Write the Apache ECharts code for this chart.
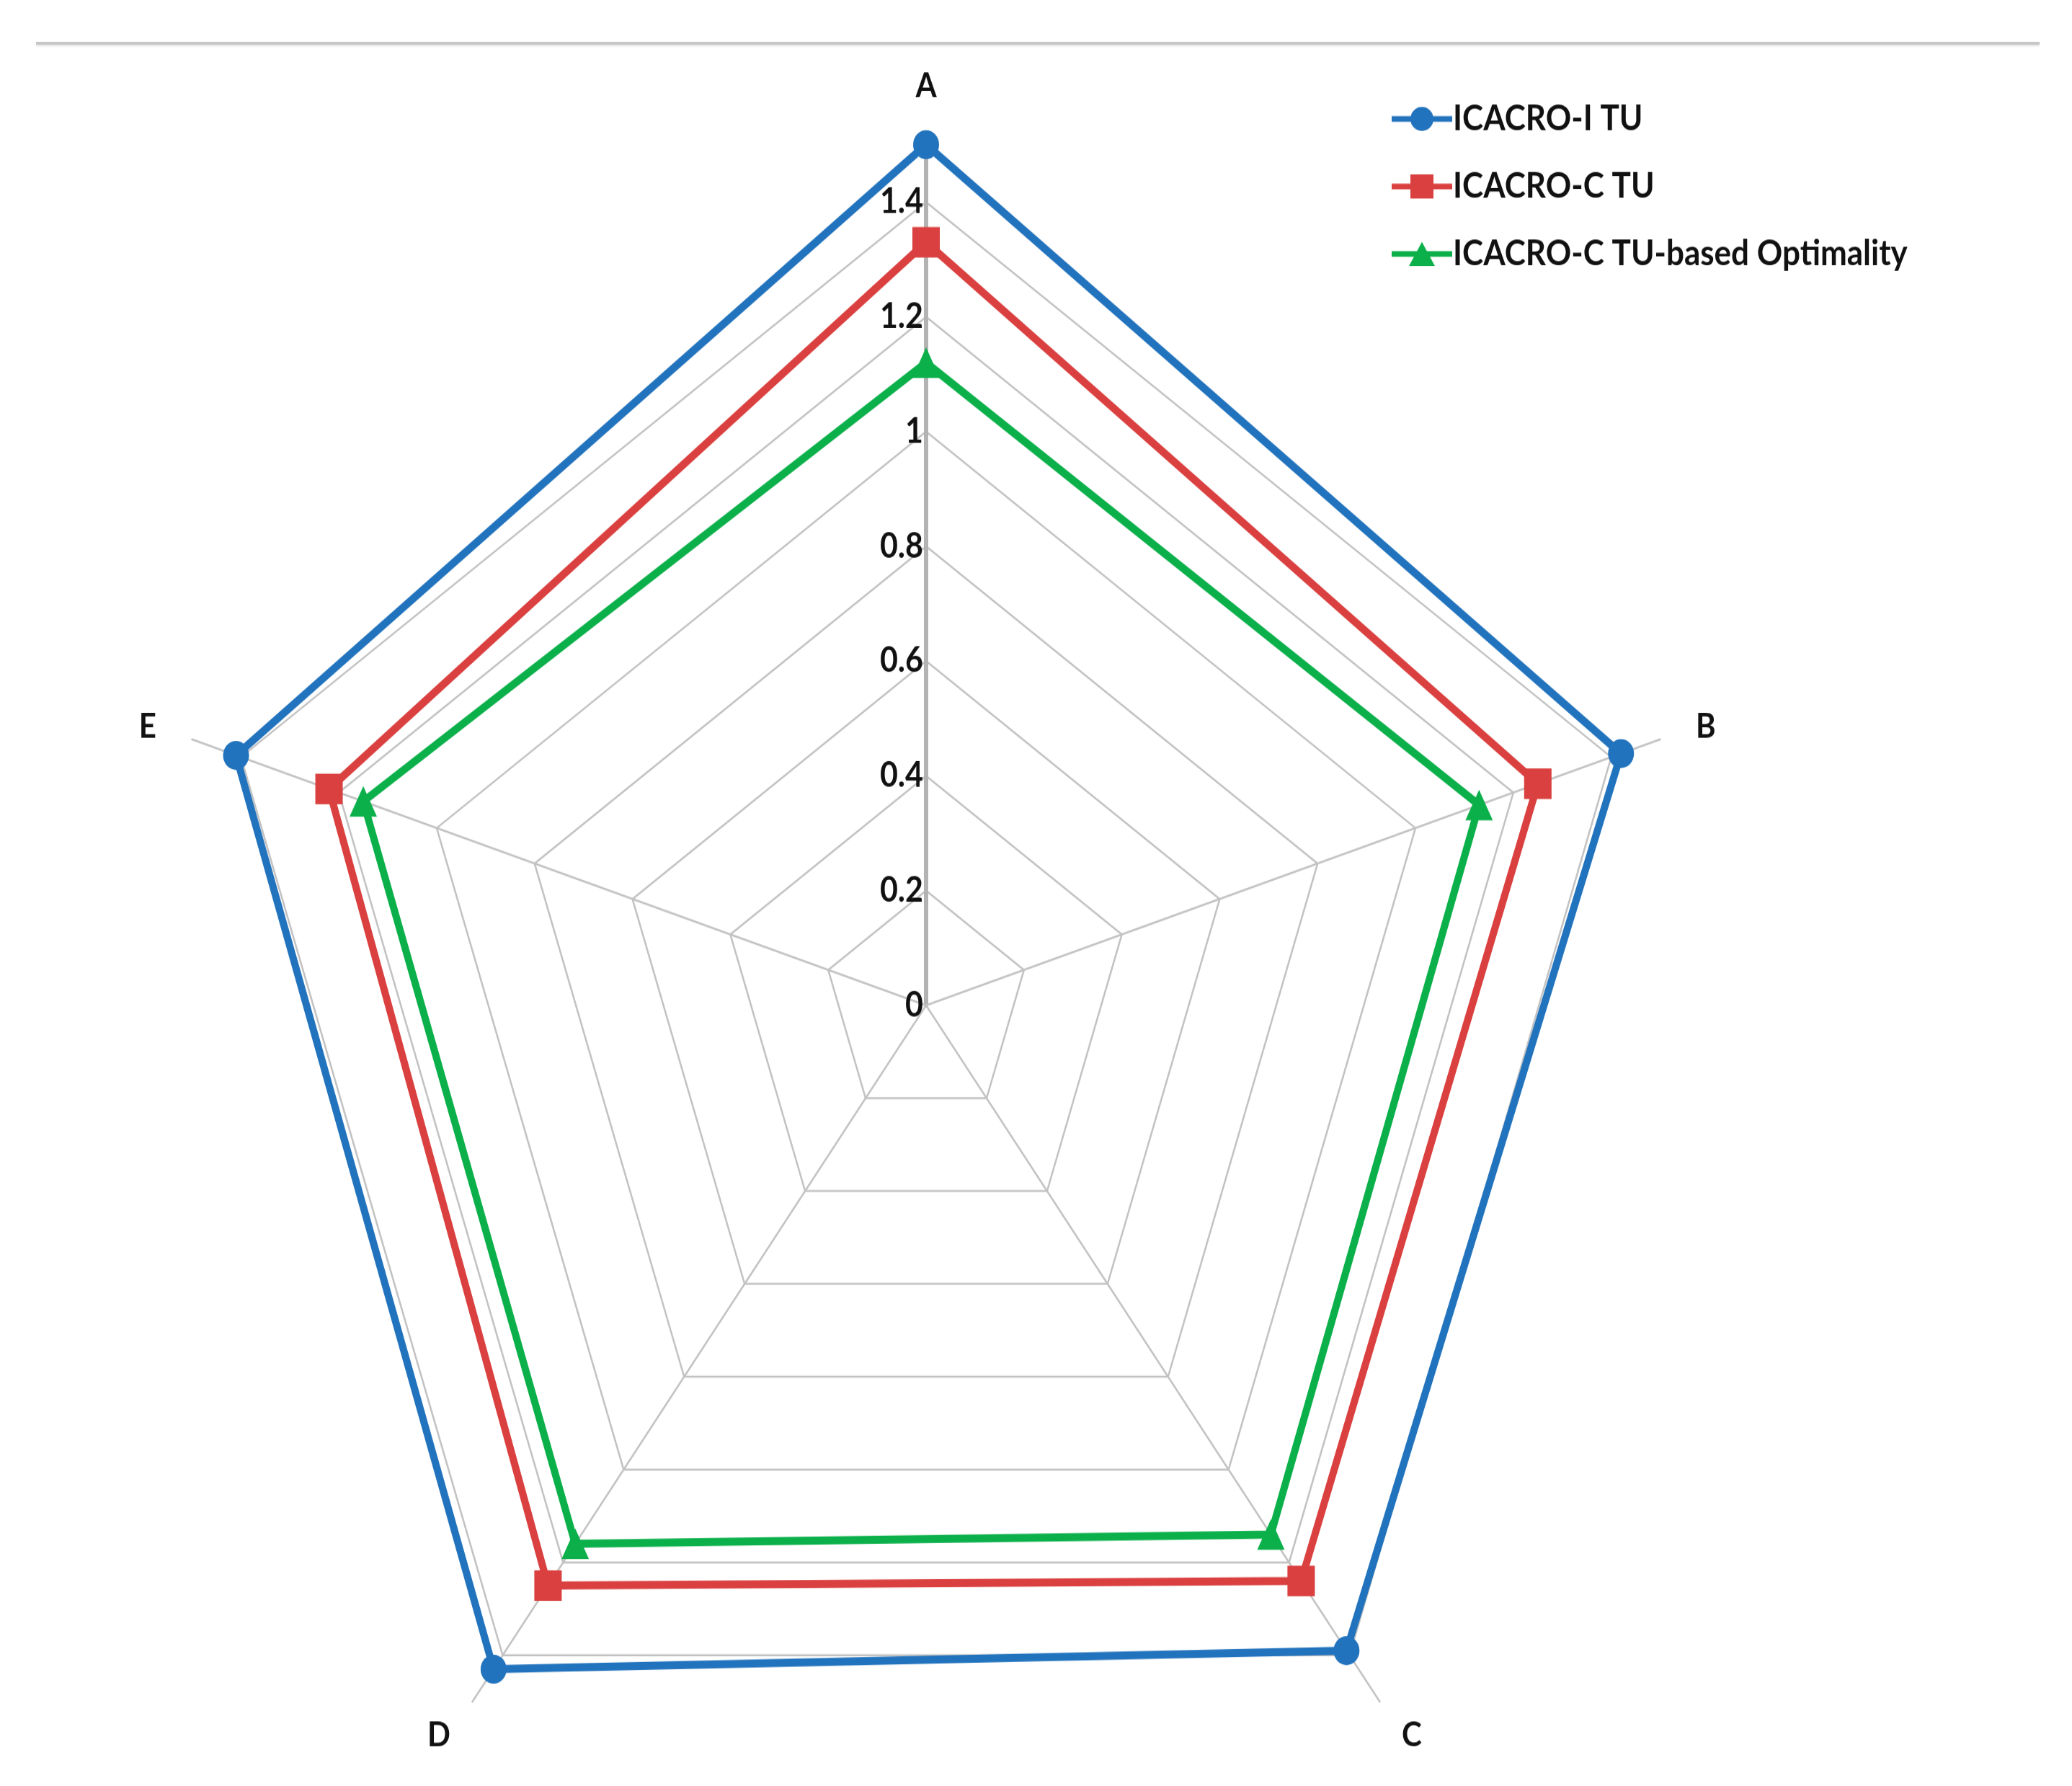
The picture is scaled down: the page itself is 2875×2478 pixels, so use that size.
<!DOCTYPE html>
<html>
<head>
<meta charset="utf-8">
<script src="https://cdn.jsdelivr.net/npm/echarts@6/dist/echarts.min.js"></script>
<style>
  html, body { margin: 0; padding: 0; background: #ffffff; }
  body { width: 2875px; height: 2478px; position: relative; overflow: hidden; }
  #chart { position: absolute; left: 0; top: 0; width: 2875px; height: 2222px; transform: scaleY(1.115); transform-origin: 0 0; z-index: 1; }
  #topline { position: absolute; left: 50px; top: 58px; width: 2780px; height: 4px; background: #c6c6c6; box-shadow: 0 2px 3px #e2e2e2; z-index: 2; }
</style>
</head>
<body>
<div id="chart"></div>
<div id="topline"></div>
<script>
// ---- data (categories listed clockwise from the top) ----
const categories = ['A', 'B', 'C', 'D', 'E'];
const seriesNames = ['ICACRO-I TU', 'ICACRO-C TU', 'ICACRO-C TU-based Optimality'];
const icacroI   = [1.50, 1.42, 1.39, 1.43, 1.41];
const icacroC   = [1.33, 1.25, 1.24, 1.25, 1.22];
const icacroOpt = [1.12, 1.13, 1.14, 1.16, 1.15];
const tickLabels = ['0', '0.2', '0.4', '0.6', '0.8', '1', '1.2', '1.4'];
const ringMax = 1.4;    // last gridline / label
const spokeMax = 1.5;   // spokes reach this value

// ---- styling ----
const colors = ['#2273bd', '#d9403f', '#0bb04a'];
const symbols = ['circle', 'rect', 'triangle'];
const symbolSizes = [36, 38, 38];
const legendIcons = [
  'path://M0,11.5H84V18.5H0Z M26,15A16,15 0 1,1 58,15A16,15 0 1,1 26,15Z',
  'path://M0,11.5H84V18.5H0Z M26,0H58V30H26Z',
  'path://M0,11.5H84V18.5H0Z M42,0L60,30H24Z'
];
const FONT = 'Lato';

// ECharts lays indicators out counter-clockwise; reorder so the picture runs clockwise
const order = [0, 4, 3, 2, 1];
const pick = arr => order.map(i => arr[i]);

const CX = 1285, CY = 1251, R_SPOKE = 1071;
const R_RING = R_SPOKE * ringMax / spokeMax;

const ringIndicators = order.map((i, k) => {
  const ind = { name: categories[i], min: 0, max: ringMax };
  if (k === 0) {
    ind.axisLabel = {
      show: true, color: '#111', fontSize: 43, fontWeight: 'bold', fontFamily: FONT,
      margin: 4, align: 'right', verticalAlign: 'middle',
      formatter: v => tickLabels[Math.round(v / 0.2)] ?? ''
    };
  }
  return ind;
});
const spokeIndicators = order.map((i, k) => {
  const ind = { name: categories[i], min: 0, max: spokeMax };
  if (k === 0) ind.axisLine = { lineStyle: { width: 6, color: '#b3b3b3' } };
  return ind;
});

const chart = echarts.init(document.getElementById('chart'), null, { renderer: 'canvas' });
chart.setOption({
  backgroundColor: 'transparent',
  animation: false,
  legend: {
    orient: 'vertical',
    left: 1926,
    top: 121,
    itemWidth: 84,
    itemHeight: 30,
    itemGap: 40,
    itemStyle: { borderWidth: 0 },
    textStyle: { fontSize: 44, fontWeight: 'bold', fontFamily: FONT, color: '#111', padding: [0, 0, 0, -4] },
    data: seriesNames.map((n, i) => ({ name: n, icon: legendIcons[i] }))
  },
  radar: [
    {
      center: [CX, CY],
      radius: R_RING,
      startAngle: 90,
      shape: 'polygon',
      splitNumber: 7,
      indicator: ringIndicators,
      axisName: { show: false },
      axisLine: { show: false },
      axisTick: { show: false },
      axisLabel: { show: false },
      splitLine: { show: true, lineStyle: { color: '#c2c2c2', width: 2.5 } },
      splitArea: { show: false }
    },
    {
      center: [CX, CY],
      radius: R_SPOKE,
      startAngle: 90,
      shape: 'polygon',
      splitNumber: 1,
      indicator: spokeIndicators,
      nameGap: 52,
      axisName: { show: true, color: '#111', fontSize: 42, fontWeight: 'bold', fontFamily: FONT },
      axisLine: { show: true, lineStyle: { color: '#c2c2c2', width: 2.5 } },
      axisTick: { show: false },
      axisLabel: { show: false },
      splitLine: { show: false },
      splitArea: { show: false }
    }
  ],
  series: [icacroI, icacroC, icacroOpt].map((vals, i) => ({
    name: seriesNames[i],
    type: 'radar',
    radarIndex: 1,
    symbol: symbols[i],
    symbolSize: symbolSizes[i],
    lineStyle: { color: colors[i], width: 10 },
    itemStyle: { color: colors[i] },
    z: 10 - i,
    data: [{ name: seriesNames[i], value: pick(vals) }]
  }))
});
</script>
</body>
</html>
